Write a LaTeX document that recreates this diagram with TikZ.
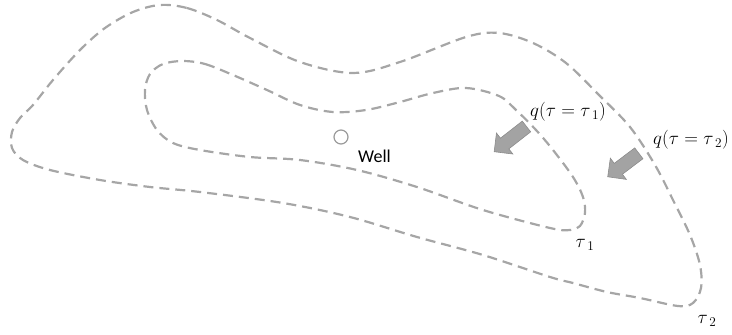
\RequirePackage{fix-cm}
\documentclass[tikz,border=0pt]{standalone}
\usepackage{fontspec}
\newfontfamily\labelfont{Carlito}
\usetikzlibrary{shapes.arrows}
\definecolor{contour}{HTML}{A6A6A6}
\definecolor{arrowfill}{HTML}{A3A3A3}
\definecolor{arrowedge}{HTML}{8C8C8C}
\definecolor{wellring}{HTML}{9A9A9A}
\begin{document}
\begin{tikzpicture}[x=1pt,y=-1pt,
  front/.style={draw=contour, line width=2.2pt, dash pattern=on 10pt off 6pt},
  flux/.style={single arrow, fill=arrowfill, draw=arrowedge, line width=0.6pt,
    minimum height=#1, single arrow head extend=6.5pt,
    inner xsep=0pt, inner ysep=6.5pt, outer sep=0pt},
  mathlabel/.style={inner sep=0pt, font=\fontsize{19}{23}\selectfont},
  welllabel/.style={inner sep=0pt, font=\labelfont\fontsize{18}{21}\selectfont}]
\useasboundingbox (0,0) rectangle (732,335);

% outer front, tau_2
\draw[front] plot[smooth cycle, tension=0.55] coordinates {
  (160,5) (187,8) (217,20) (250,38) (300,62) (353,73) (400,62) (466,37) (499,33)
  (533,43) (566,63) (599,95) (630,127) (655,165) (673,200) (690,235)
  (700,265) (701,288) (693,303) (678,306) (640,298) (607,292) (573,283)
  (550,277) (483,255) (417,237) (350,217) (283,203) (200,192) (150,187)
  (100,180) (50,170) (23,160) (12,148) (12,132) (20,118) (33,105) (53,80)
  (80,50) (105,28) (133,12)};

% inner front, tau_1
\draw[front] plot[smooth cycle, tension=0.55] coordinates {
  (183,61) (205,64) (233,75) (267,90) (300,105) (333,112) (366,110) (400,102)
  (433,93) (466,88) (499,96) (516,110) (536,130) (553,150) (573,177)
  (583,197) (585,213) (580,226) (570,230) (550,228) (483,210) (417,187)
  (357,170) (300,160) (250,157) (200,150) (173,143) (157,130) (147,110)
  (145,90) (150,74) (163,64)};

% well
\node[circle, draw=wellring, line width=1.2pt, minimum size=14pt, inner sep=0pt]
  (well) at (341,137) {};
\node[welllabel, anchor=base west] (welltext) at (358,162) {Well};

% flux arrows
\node[flux=41pt, rotate=218] (q1arrow) at (513,137) {};
\node[flux=39pt, rotate=217] (q2arrow) at (626,163) {};

% labels
\node[mathlabel] (q1) at (568,112) {$q(\tau=\tau_{\;1})$};
\node[mathlabel] (q2) at (691,140) {$q(\tau=\tau_{\;2})$};
\node[mathlabel] (t1) at (585,245) {$\tau_{\;1}$};
\node[mathlabel] (t2) at (707,321) {$\tau_{\;2}$};
\end{tikzpicture}
\end{document}
